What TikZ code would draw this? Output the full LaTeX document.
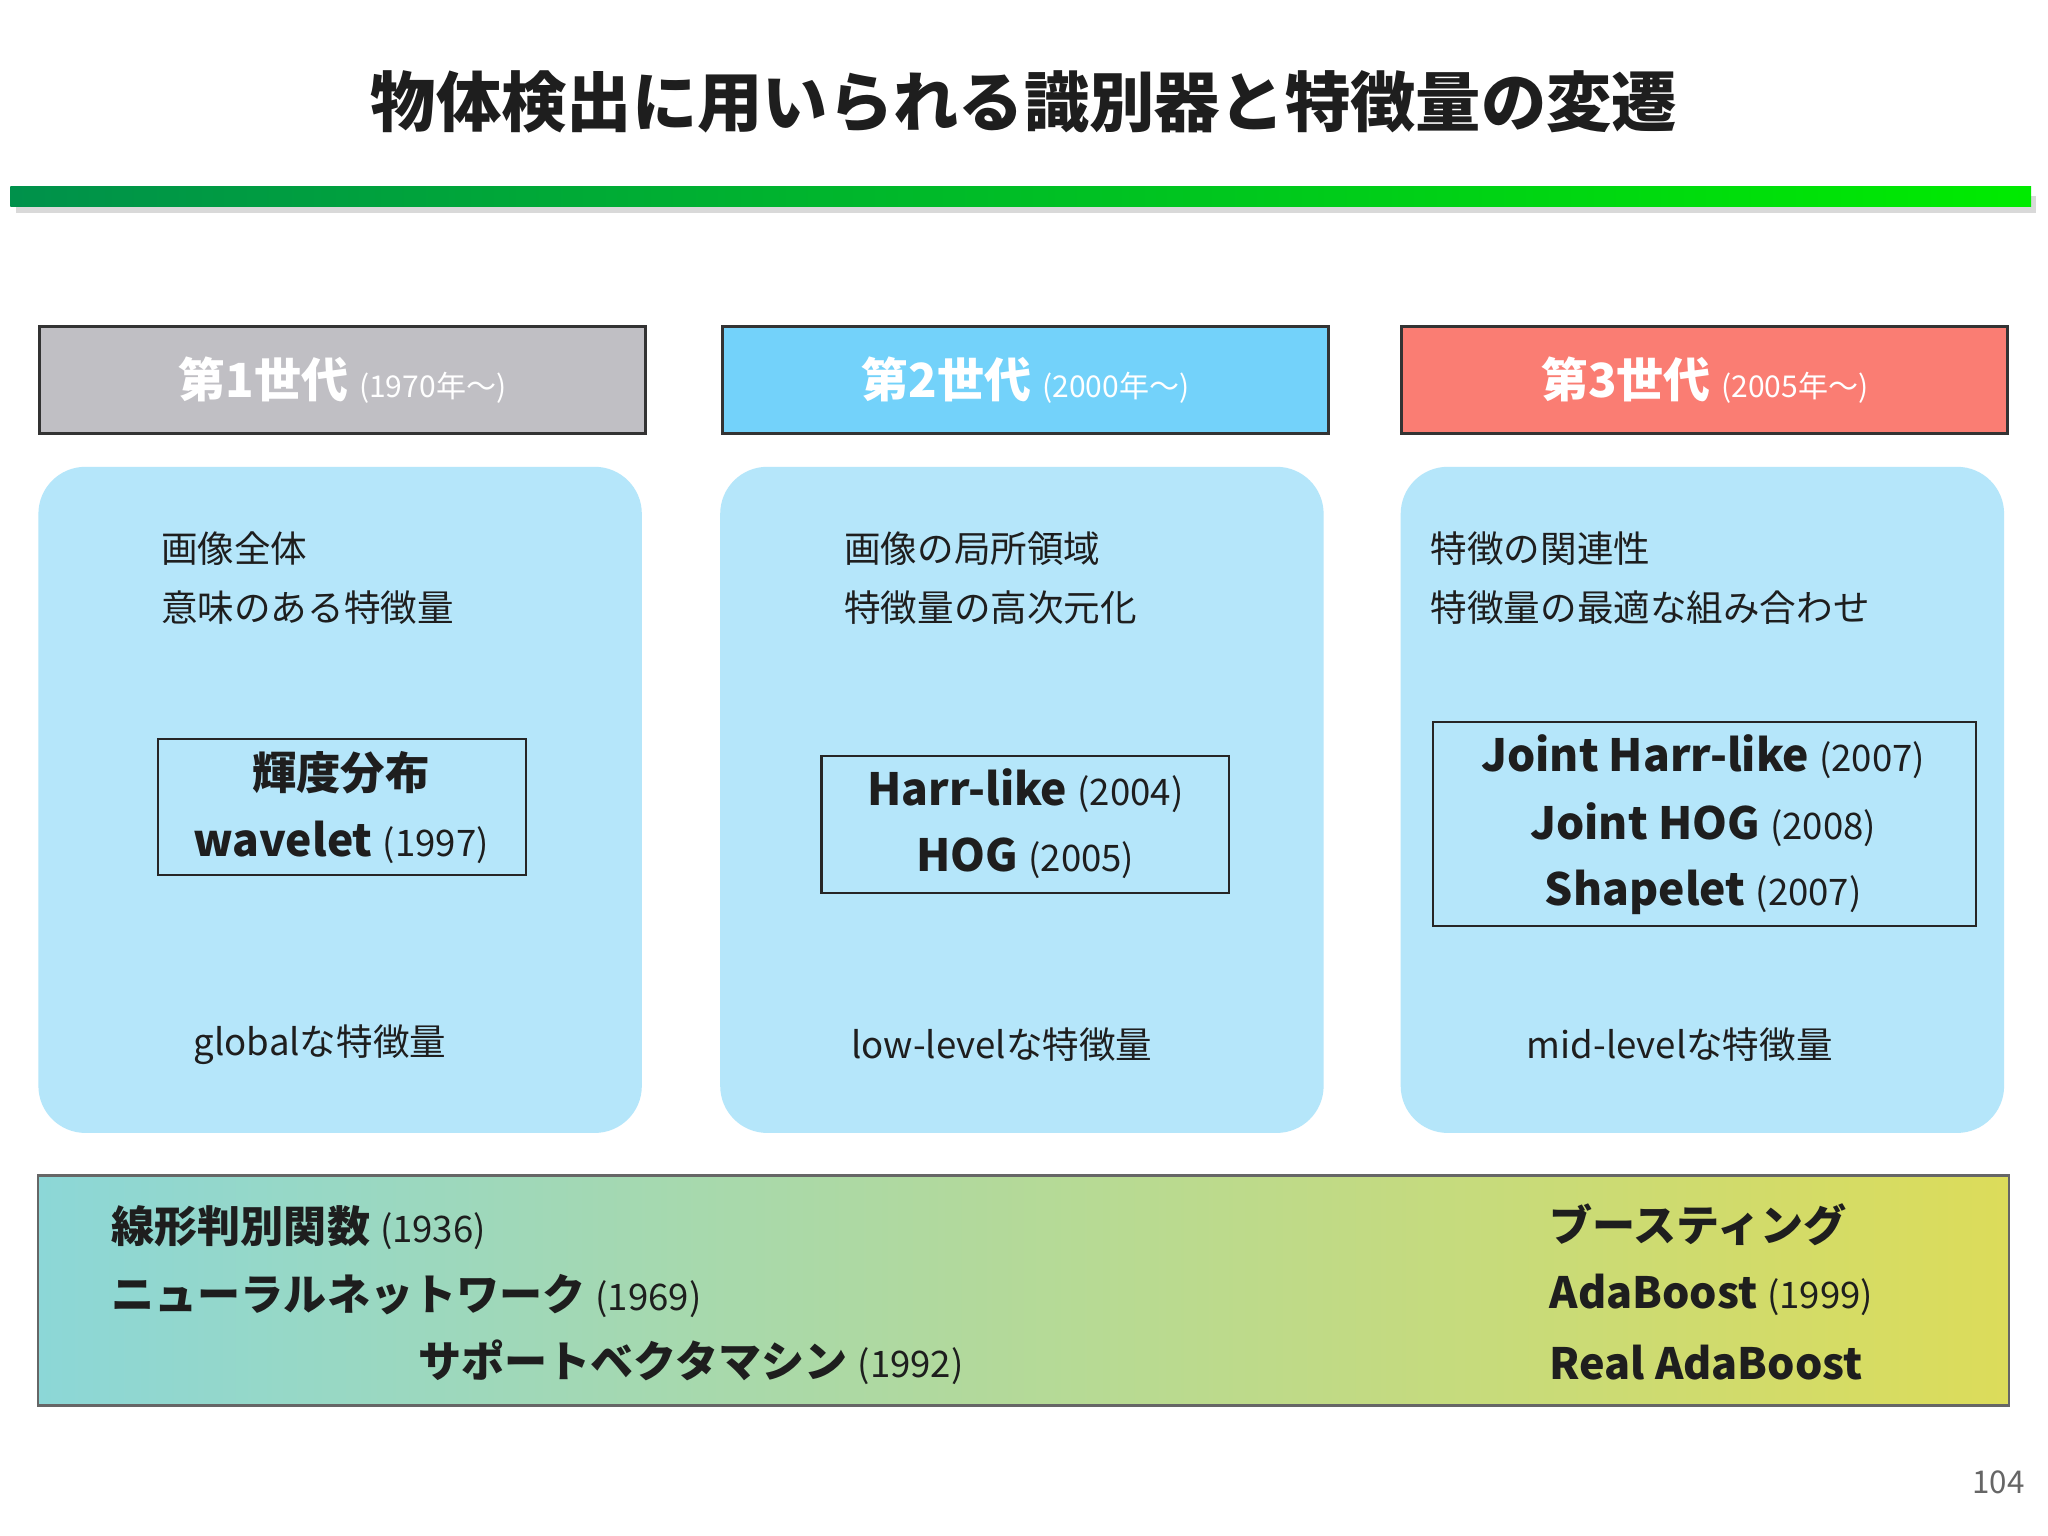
\documentclass[tikz,border=0pt]{standalone}
\usepackage{fontspec}
\setmainfont{Noto Sans CJK JP}
\usetikzlibrary{shadows}
\definecolor{hgray}{RGB}{192,191,196}
\definecolor{hcyan}{RGB}{115,210,250}
\definecolor{hred}{RGB}{250,125,115}
\definecolor{panel}{RGB}{181,230,250}
\definecolor{gl}{RGB}{140,215,215}
\definecolor{gr}{RGB}{220,220,90}
\definecolor{txt}{RGB}{30,30,30}
\tikzset{
  hdr/.style={draw=black!80,line width=1.2pt,minimum width=232pt,minimum height=41pt,anchor=north west,inner sep=0pt,text=white},
  pnl/.style={fill=panel,rounded corners=18pt,minimum width=231pt,minimum height=255pt,anchor=north west,inner sep=0pt},
  ibox/.style={draw=black!85,line width=0.9pt,anchor=north west,inner sep=0pt},
  ptxt/.style={anchor=west,font=\fontsize{14}{16}\selectfont,text=txt,inner sep=0pt},
  big/.style={font=\fontsize{17}{19}\selectfont\bfseries,text=txt,inner sep=0pt},
  ltxt/.style={anchor=west,font=\fontsize{16.5}{19}\selectfont\bfseries,text=txt,inner sep=0pt},
}
\newcommand{\yr}[1]{{\fontsize{14}{16}\selectfont\mdseries #1}}
\newcommand{\hy}[1]{{\fontsize{11.5}{13}\selectfont\mdseries #1}}
\begin{document}
\begin{tikzpicture}[x=0.5pt,y=-0.5pt]
\useasboundingbox[fill=white] (0,0) rectangle (1568,1176);
\node[font=\fontsize{25}{28}\selectfont\bfseries,text=txt] (title) at (784,78) {物体検出に用いられる識別器と特徴量の変遷};
\fill[black!15] (12,150) rectangle (1559,163);
\shade[left color={rgb,255:red,0;green,145;blue,75},right color={rgb,255:red,0;green,235;blue,0}] (8,143) rectangle (1555,158);
% headers
\node[hdr,fill=hgray] (h1) at (29,249) {\fontsize{18}{20}\selectfont\bfseries 第1世代\ \hy{(1970年〜)}};
\node[hdr,fill=hcyan] (h2) at (552,249) {\fontsize{18}{20}\selectfont\bfseries 第2世代\ \hy{(2000年〜)}};
\node[hdr,fill=hred] (h3) at (1072,249) {\fontsize{18}{20}\selectfont\bfseries 第3世代\ \hy{(2005年〜)}};
% panels
\node[pnl] (p1) at (29,357) {};
\node[pnl] (p2) at (551,357) {};
\node[pnl] (p3) at (1072,357) {};
\node[ptxt] (t11) at (123,420) {画像全体};
\node[ptxt] (t12) at (123,465) {意味のある特徴量};
\node[ptxt] (t21) at (646,420) {画像の局所領域};
\node[ptxt] (t22) at (646,465) {特徴量の高次元化};
\node[ptxt] (t31) at (1095,420) {特徴の関連性};
\node[ptxt] (t32) at (1095,465) {特徴量の最適な組み合わせ};
% inner boxes
\node[ibox,minimum width=141pt,minimum height=52pt] (b1) at (120,565) {};
\node[big] at (261,592) {輝度分布};
\node[big] at (261,645) {wavelet \yr{(1997)}};
\node[ibox,minimum width=156pt,minimum height=52.5pt] (b2) at (628,578) {};
\node[big] at (785,605) {Harr-like \yr{(2004)}};
\node[big] at (785,657) {HOG \yr{(2005)}};
\node[ibox,minimum width=208pt,minimum height=78pt] (b3) at (1096,552) {};
\node[big] at (1304,579) {Joint Harr-like \yr{(2007)}};
\node[big] at (1304,631) {Joint HOG \yr{(2008)}};
\node[big] at (1304,683) {Shapelet \yr{(2007)}};
% bottom labels
\node[font=\fontsize{14}{16}\selectfont,text=txt] (g1) at (245,800) {globalな特徴量};
\node[font=\fontsize{14}{16}\selectfont,text=txt] (g2) at (767,800) {low-levelな特徴量};
\node[font=\fontsize{14}{16}\selectfont,text=txt] (g3) at (1286,800) {mid-levelな特徴量};
% bottom box
\shade[left color=gl,right color=gr] (29,900) rectangle (1538,1076);
\draw[black!60,line width=1pt] (29,900) rectangle (1538,1076);
\node[ltxt] (c1) at (85,940) {線形判別関数 \yr{(1936)}};
\node[ltxt] (c2) at (85,992) {ニューラルネットワーク \yr{(1969)}};
\node[ltxt] (c3) at (320,1043) {サポートベクタマシン \yr{(1992)}};
\node[ltxt] (d1) at (1186,938) {ブースティング};
\node[ltxt] (d2) at (1186,991) {AdaBoost \yr{(1999)}};
\node[ltxt] (d3) at (1186,1043) {Real AdaBoost};
\node[font=\fontsize{12}{14}\selectfont,text=black!60] (pg) at (1530,1135) {104};
\end{tikzpicture}
\end{document}
